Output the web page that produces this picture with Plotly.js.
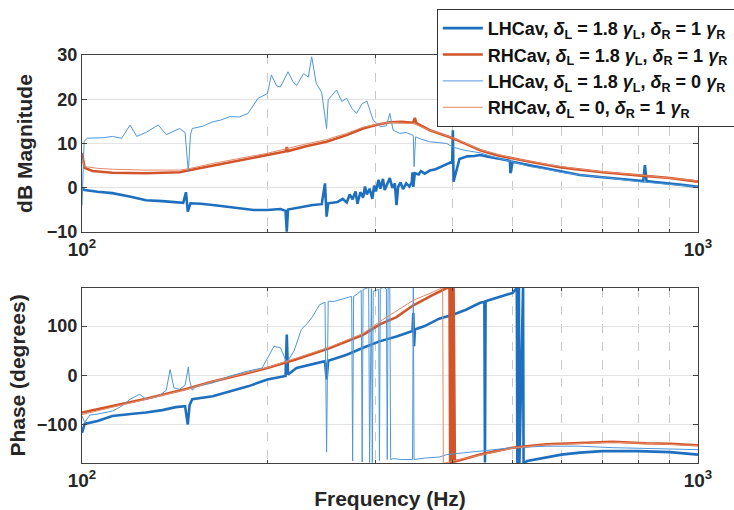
<!DOCTYPE html>
<html>
<head>
<meta charset="utf-8">
<script src="https://cdn.plot.ly/plotly-3.0.1.min.js"></script>
<style>html,body{margin:0;padding:0;background:#fff;}#chart{width:734px;height:510px;}</style>
</head>
<body>
<div id="chart"></div>
<script>
// ---------- Magnitude (dB) ----------
// LHCav, dL = 1.8 gL, dR = 1 gR (thick blue)
var fMagA = [100,101,106,112,120,127,135,142,146,147.5,148.5,150,156,163,170,180,190,200,210,214,215,216,220,230,237,245,248,249.5,251,260,265,269,272,275,278,280,283,286,288,290,293,296,298,300,303,305,308,310,313,316,319,322,324,326,329,332,336,340,343,344,345,347,352,355,360,367,375,380,386,392,399,400,401,410,422,433,443,456,470,485,495,496,500,533,567,600,643,700,750,800,815,820,825,850,900,950,1000];
var magA  = [-0.2,-0.5,-0.9,-1.2,-2.0,-2.8,-3.0,-3.3,-3.4,-1.0,-5.4,-3.5,-3.6,-3.9,-4.2,-4.6,-5.0,-5.0,-4.8,-5.2,-9.9,-4.9,-4.7,-4.3,-3.9,-3.7,1.0,-6.5,-3.5,-3.2,-2.5,-3.3,-1.5,-2.6,-0.8,-3.6,-1.0,-2.2,0.3,-1.5,-0.2,-2.5,0.5,-0.8,1.8,-0.2,2.0,-0.5,1.0,2.2,0.0,1.0,-3.9,0.2,1.2,-0.3,1.0,0.3,1.2,3.5,0.2,3.3,3.0,3.8,3.2,3.9,4.2,4.6,5.0,5.4,5.9,13.0,1.4,6.5,7.1,7.2,7.4,7.0,6.7,6.4,6.1,3.3,5.9,5.1,4.4,3.7,2.9,2.4,2.0,1.6,1.5,5.1,1.5,1.3,1.0,0.6,0.2];
// RHCav, dL = 1.8 gL, dR = 1 gR (thick orange)
var fMagB = [100,101,104,112,127,144,150,163,174,186,200,214,215,216,231,249.5,269,286,300,316,330,345,347,349,367,400,417,443,470,500,533,567,600,643,700,800,900,1000];
var magB  = [7.8,4.5,3.8,3.4,3.3,3.5,4.0,5.0,5.7,6.5,7.3,8.2,9.2,8.3,9.4,10.4,11.9,13.4,14.2,14.8,14.9,14.7,15.8,14.6,13.0,11.2,10.1,8.5,7.4,6.6,5.9,5.2,4.6,4.1,3.5,2.8,2.2,1.4];
// LHCav, dL = 1.8 gL, dR = 0 gR (thin blue)
var fMagC = [100,100.8,102,108,112,116,119.7,122.7,127,133,137,144,147,148.8,150,151,157,163,168,174,180,186,193,200,203,207,210,216,220,223,229,233,236,240,245,249.5,251,259,264,269,274,279,285,290,297,305,312,316,320,328,336,345,346,348,355,367,380,391,400,417,443,470,500,533,567,600,643,700,800,900,1000];
var magC  = [-4.0,10.5,11.2,11.3,11.6,11.2,14.2,11.6,12.5,14.2,12.0,13.4,12.5,3.6,12.0,13.4,13.9,14.9,15.3,16.1,16.0,16.8,20.2,21.3,25.5,23.0,22.8,26.2,24.0,23.1,25.8,25.0,29.6,23.6,21.5,13.4,19.9,22.1,19.5,20.2,18.0,16.8,19.0,19.6,15.3,13.8,14.0,16.8,13.0,12.3,12.5,11.8,4.8,11.5,11.0,10.4,10.2,10.0,9.2,8.5,7.9,6.8,5.9,4.8,4.2,3.5,2.9,2.4,1.4,0.8,0.2];
// RHCav, dL = 0, dR = 1 gR (thin orange)
var fMagD = [100,101,106,112,127,144,150,163,186,200,231,249.5,269,286,300,316,345,367,400,443,500,567,643,700,800,900,1000];
var magD  = [6.5,4.8,4.4,4.2,4.0,4.0,4.4,5.5,7.0,7.8,9.9,10.9,12.3,13.7,14.3,14.8,14.5,13.0,11.3,8.6,6.7,5.3,4.2,3.6,2.9,2.3,1.6];

// ---------- Phase (degrees) ----------
var fPhA = [100,101,106,112,120,127,135,142,147,148.5,149.5,151,163,175,186,200,210,214,215,216,223,235,248,249.5,251,260,269,286,304,324,344,345,346,347,360,380,400,420,443,450,451,452,470,500,508,509,512,513,520,521,528,545,567,600,643,700,750,800,900,1000];
var phA  = [-116,-98,-92,-82,-78,-75,-70,-64,-62,-99,-60,-48,-42,-32,-22,-8,-3,-1,83,2,15,22,29,-8,30,36,42,56,69,79,90,127,59,93,100,115,123,133,147,149,-176,150,157,167,177,-177,178,-177,178,-178,-173,-170,-166,-160,-156,-153,-153,-153,-155,-160];
var fPhB = [100,112,127,148,163,186,200,223,252,286,305,324,345,370,391,395,396,397,398,399,400,401,403,420,443,470,500,567,643,727,824,900,1000];
var phB  = [-75,-62,-47,-27,-12,5,15,33,55,82,104,118,142,162,177,178,-178,178,-177,178,-178,178,-174,-168,-160,-153,-146,-139,-137,-134,-137,-138,-141];
var fPhC = [100,101,103,106,112,116,119.7,124,127,133,137,139,141,144,147,148.8,149.5,151,153,163,174,186,196,200,205,210,215,221,227,232,237,243,248,249.5,251,257,264,269,274,275,276,280,284,285,286,289,292,293,295,296,297,300,303,304,305,309,312,313,314,316,317,320,330,344,345,346,360,380,391,420,443,470,500,567,643,727,824,900,1000];
var phC  = [-82,-95,-80,-78,-72,-62,-48,-38,-48,-42,-30,12,-25,-28,-20,17,-10,-30,-22,-15,-1,9,15,36,59,56,26,50,93,105,120,143,148,-155,150,150,155,157,160,-173,160,165,172,-175,174,176,178,-176,176,-176,170,172,174,-172,176,178,175,-170,177,178,-170,-168,-170,-170,177,-170,-167,-165,-160,-156,-153,-150,-146,-143,-143,-146,-147,-148,-150];
var fPhD = [100,112,127,148,163,200,252,286,305,345,370,384,385,386,390,400,443,500,567,643,727,824,1000];
var phD  = [-79,-64,-48,-28,-12,16,57,85,110,152,168,177,178,-178,-177,-173,-161,-147,-140,-137,-135,-137,-142];

var pad = '\u00a0\u00a0\u00a0\u00a0\u00a0\u00a0';
var legendNames = [
  'LHCav, <i>δ</i><sub>L</sub> = 1.8 <i>γ</i><sub>L</sub>, <i>δ</i><sub>R</sub> = 1 <i>γ</i><sub>R</sub>' + pad,
  'RHCav, <i>δ</i><sub>L</sub> = 1.8 <i>γ</i><sub>L</sub>, <i>δ</i><sub>R</sub> = 1 <i>γ</i><sub>R</sub>' + pad,
  'LHCav, <i>δ</i><sub>L</sub> = 1.8 <i>γ</i><sub>L</sub>, <i>δ</i><sub>R</sub> = 0 <i>γ</i><sub>R</sub>' + pad,
  'RHCav, <i>δ</i><sub>L</sub> = 0, <i>δ</i><sub>R</sub> = 1 <i>γ</i><sub>R</sub>'
];
var xTickVals = [100, 1000];
var xTickText = ['10<sup>2</sup>', '10<sup>3</sup>'];
var minorVals = [200,300,400,500,600,700,800,900];

var styles = [
  {color:'#1f6fbf', width:2.6},
  {color:'#d2552a', width:2.6},
  {color:'#4f97d8', width:1},
  {color:'#e58a66', width:1}
];
var magX = [fMagA, fMagB, fMagC, fMagD], magY = [magA, magB, magC, magD];
var phX = [fPhA, fPhB, fPhC, fPhD], phY = [phA, phB, phC, phD];

var traces = [];
for (var i = 0; i < 4; i++) {
  traces.push({x: magX[i], y: magY[i], type:'scatter', mode:'lines', name: legendNames[i],
    line:{color:styles[i].color, width:styles[i].width}, xaxis:'x', yaxis:'y', legendgroup:'g'+i});
}
for (var i = 0; i < 4; i++) {
  traces.push({x: phX[i], y: phY[i], type:'scatter', mode:'lines', name: legendNames[i], showlegend:false,
    line:{color:styles[i].color, width:styles[i].width}, xaxis:'x2', yaxis:'y2', legendgroup:'g'+i});
}

var txt = '#262626';
var fnt = {family:'Liberation Sans, Arial, sans-serif', size:18, color:txt, weight:'bold'};
function xaxisDef(anchor, showTitle) {
  var a = {type:'log', range:[2,3], domain:[0,1], anchor:anchor,
    tickmode:'array', tickvals:xTickVals, ticktext:xTickText,
    ticks:'inside', ticklen:5, tickcolor:'#404040',
    showline:true, linecolor:'#404040', linewidth:1, mirror:'ticks',
    showgrid:true, gridcolor:'#dcdcdc', zeroline:false,
    tickfont:{family:fnt.family, size:19, color:txt, weight:'bold'},
    minor:{tickmode:'array', tickvals:minorVals, ticks:'inside', ticklen:3, tickcolor:'#404040',
      showgrid:true, gridcolor:'#c8c8c8', griddash:'dash', gridwidth:1}};
  if (showTitle) a.title = {text:'Frequency (Hz)', font:{family:fnt.family, size:21, color:txt, weight:'bold'}, standoff:4};
  return a;
}
function yaxisDef(anchor, domain, range, tickvals, title, standoff) {
  return {domain:domain, range:range, anchor:anchor, tickmode:'array', tickvals:tickvals,
    ticks:'inside', ticklen:5, tickcolor:'#404040',
    showline:true, linecolor:'#404040', linewidth:1, mirror:'ticks',
    showgrid:true, gridcolor:'#e3e3e3', zeroline:false,
    tickfont:{family:fnt.family, size:18, color:txt, weight:'bold'},
    title:{text:title, font:{family:fnt.family, size:21, color:txt, weight:'bold'}, standoff:standoff}};
}

var layout = {
  width:734, height:510,
  margin:{l:82, r:36, t:55, b:47, autoexpand:false},
  paper_bgcolor:'#ffffff', plot_bgcolor:'#ffffff',
  font:fnt,
  showlegend:true,
  xaxis: xaxisDef('y', false),
  yaxis: yaxisDef('x', [0.566, 1], [-10, 30], [-10,0,10,20,30], 'dB Magnitude', 8),
  xaxis2: xaxisDef('y2', true),
  yaxis2: yaxisDef('x2', [0, 0.429], [-177, 177], [-100,0,100], 'Phase (degrees)', 5),
  legend:{x:0.576, y:1.113, xref:'paper', yref:'paper', xanchor:'left', yanchor:'top',
    bgcolor:'#ffffff', bordercolor:'#333333', borderwidth:1,
    font:{family:fnt.family, size:18, color:'#111', weight:'bold'},
    itemwidth:40, tracegroupgap:0}
};

Plotly.newPlot('chart', traces, layout, {staticPlot:true, displayModeBar:false});
</script>
</body>
</html>
